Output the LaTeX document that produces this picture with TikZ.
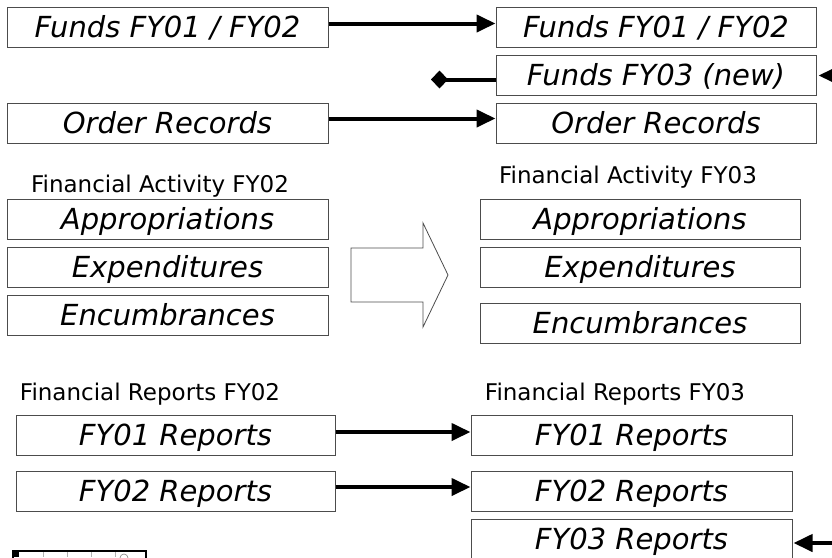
\documentclass[tikz,border=0pt]{standalone}
\usepackage{fontspec}
\setmainfont{DejaVu Sans}
\usetikzlibrary{arrows.meta}
\begin{document}
\begin{tikzpicture}[x=1pt,y=-1pt,
    box/.style={draw=black!70,line width=1pt,minimum height=40pt,inner sep=0pt,
      text height=21pt,text depth=0pt,font=\fontsize{29}{32}\selectfont\itshape},
    lbox/.style={box,minimum width=321pt},
    rbox/.style={box,minimum width=320pt},
    heading/.style={anchor=base,font=\fontsize{23}{26}\selectfont,inner sep=0pt},
    conn/.style={line width=4pt,-{Triangle[length=19pt,width=17pt]}},
    dconn/.style={line width=4pt,-{Diamond[length=17pt,width=18pt]}}]
  \useasboundingbox (0,0) rectangle (832,557);
  % funds and orders
  \node[lbox] (fundsL) at (167.5,27) {Funds FY01 / FY02};
  \node[rbox] (fundsR) at (656,27) {Funds FY01 / FY02};
  \node[rbox] (fundsNew) at (656,75) {Funds FY03 (new)};
  \node[lbox] (orderL) at (167.5,123) {Order Records};
  \node[rbox] (orderR) at (656,123) {Order Records};
  \coordinate (fundsEnd) at (431,79.5);
  \coordinate (fundsIn) at (840,75.5);
  % financial activity
  \node[heading] (actL) at (160,192) {Financial Activity FY02};
  \node[heading] (actR) at (628,183) {Financial Activity FY03};
  \node[lbox] (apprL) at (167.5,219) {Appropriations};
  \node[lbox] (expL) at (167.5,267) {Expenditures};
  \node[lbox] (encL) at (167.5,315) {Encumbrances};
  \node[rbox] (apprR) at (640,219) {Appropriations};
  \node[rbox] (expR) at (640,267) {Expenditures};
  \node[rbox] (encR) at (640,323) {Encumbrances};
  \draw[black!70,line width=0.8pt] (351,248) -- (423,248) -- (423,223) -- (448,275)
    -- (423,327) -- (423,302) -- (351,302) -- cycle;
  % financial reports
  \node[heading] (repL) at (150,400) {Financial Reports FY02};
  \node[heading] (repR) at (615,400) {Financial Reports FY03};
  \node[lbox,minimum width=319pt] (rep1L) at (175.5,435) {FY01 Reports};
  \node[rbox,minimum width=321pt] (rep1R) at (631.5,435) {FY01 Reports};
  \node[lbox,minimum width=319pt] (rep2L) at (175.5,491) {FY02 Reports};
  \node[rbox,minimum width=321pt] (rep2R) at (631.5,491) {FY02 Reports};
  \node[rbox,minimum width=321pt] (rep3R) at (631.5,539) {FY03 Reports};
  \coordinate (repIn) at (840,543);
  \begin{scope}
    \draw[conn] ([yshift=3.5pt]fundsL.east) -- ([yshift=3.5pt]fundsR.west);
    \draw[dconn] (fundsNew.west |- fundsEnd) -- (fundsEnd);
    \draw[conn,shorten >=2pt] (fundsIn) -- (fundsNew.east |- fundsIn);
    \draw[conn] ([yshift=4.5pt]orderL.east) -- ([yshift=4.5pt]orderR.west);
    \draw[conn] ([yshift=3pt]rep1L.east) -- ([yshift=3pt]rep1R.west);
    \draw[conn] ([yshift=4pt]rep2L.east) -- ([yshift=4pt]rep2R.west);
    \draw[conn,shorten >=1pt] (repIn) -- (rep3R.east |- repIn);
  \end{scope}
  % clipped toolbar at the bottom
  \draw[line width=1.5pt] (13,560) -- (13,551) -- (146,551) -- (146,560);
  \fill (13,551) rectangle (19,557);
  \foreach \x in {43,67,91,115}
    \draw[black!30,line width=0.6pt] (\x,552) -- (\x,557);
  \draw[black!50,line width=0.6pt] (124,558) circle (4);
\end{tikzpicture}
\end{document}
